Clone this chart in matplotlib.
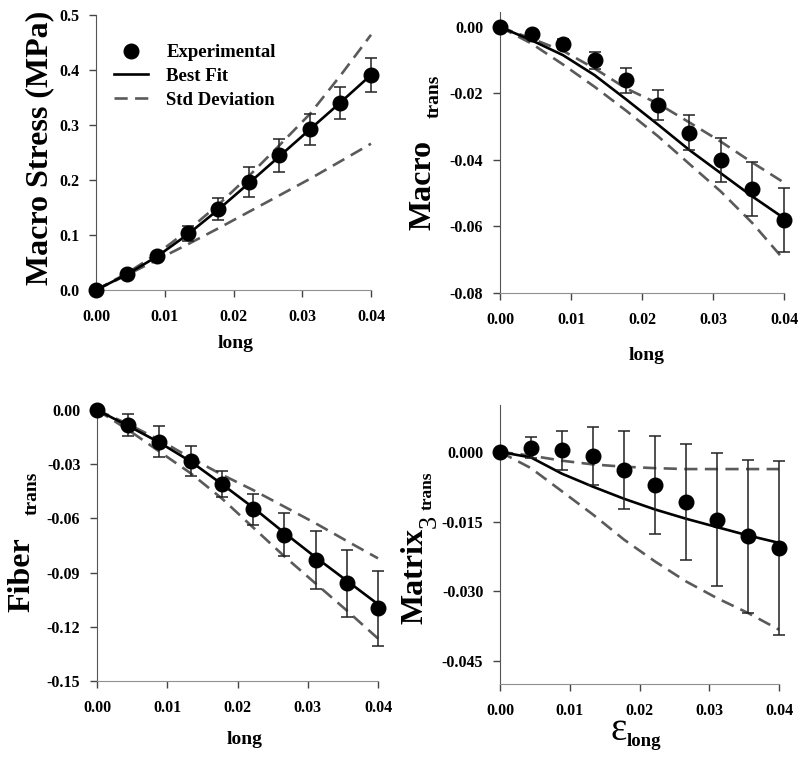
import numpy as np
import matplotlib
matplotlib.use("Agg")
import matplotlib.pyplot as plt
from matplotlib.lines import Line2D

plt.rcParams['font.family'] = ['Liberation Serif', 'DejaVu Serif']
plt.rcParams['font.weight'] = 'bold'
plt.rcParams['axes.unicode_minus'] = False

# strain levels (longitudinal)
strain = [0.0, 0.00444, 0.00889, 0.01333, 0.01778, 0.02222, 0.02667, 0.03111, 0.03556, 0.04]

# Macro stress (MPa)
stress_exp = [0.0, 0.029, 0.062, 0.103, 0.147, 0.197, 0.245, 0.292, 0.340, 0.391]
stress_err = [0.0, 0.003, 0.005, 0.0136, 0.0206, 0.0273, 0.030, 0.028, 0.0285, 0.0315]
stress_fit = [0.0, 0.028, 0.061, 0.101, 0.146, 0.194, 0.243, 0.292, 0.341, 0.391]
stress_hi = [0.0, 0.030, 0.066, 0.108, 0.155, 0.207, 0.263, 0.320, 0.390, 0.464]
stress_lo = [0.0, 0.027, 0.055, 0.083, 0.112, 0.142, 0.172, 0.202, 0.234, 0.266]

# Macro transverse strain
macro_exp = [0.0, -0.0020, -0.0052, -0.0100, -0.0160, -0.0235, -0.0318, -0.0400, -0.0487, -0.0580]
macro_err = [0.0, 0.0008, 0.0015, 0.0025, 0.00375, 0.0044, 0.0053, 0.0067, 0.0081, 0.0096]
macro_fit = [0.0, -0.0040, -0.0085, -0.0145, -0.0218, -0.0293, -0.0370, -0.0440, -0.0510, -0.0575]
macro_hi = [0.0, -0.0035, -0.0072, -0.0125, -0.0185, -0.0230, -0.0287, -0.0345, -0.0408, -0.0468]
macro_lo = [0.0, -0.0050, -0.0113, -0.0180, -0.0252, -0.0328, -0.0412, -0.0495, -0.0590, -0.0700]

# Fiber transverse strain
fiber_exp = [0.0, -0.0083, -0.0175, -0.0284, -0.0411, -0.0550, -0.0690, -0.0830, -0.0960, -0.1098]
fiber_err = [0.0, 0.0063, 0.0085, 0.0083, 0.0073, 0.0085, 0.0118, 0.0159, 0.0186, 0.0209]
fiber_fit = [0.0, -0.0088, -0.0180, -0.0285, -0.0410, -0.0540, -0.0680, -0.0815, -0.0945, -0.1075]
fiber_hi = [0.0, -0.0078, -0.0166, -0.0265, -0.0358, -0.0443, -0.0535, -0.0627, -0.0725, -0.0821]
fiber_lo = [0.0, -0.0110, -0.0230, -0.0350, -0.0490, -0.0650, -0.0810, -0.0960, -0.1110, -0.1265]

# Matrix transverse strain
matrix_exp = [0.0, 0.0009, 0.0004, -0.0009, -0.0038, -0.0071, -0.0107, -0.0146, -0.0182, -0.0207]
matrix_err = [0.0, 0.0023, 0.0042, 0.0063, 0.0084, 0.0105, 0.0125, 0.0143, 0.0165, 0.0187]
matrix_fit = [0.0, -0.0012, -0.0047, -0.0075, -0.0101, -0.0124, -0.0144, -0.0162, -0.0180, -0.0196]
matrix_hi = [0.0, -0.0008, -0.0019, -0.0027, -0.0032, -0.0035, -0.0037, -0.0037, -0.0037, -0.0037]
matrix_lo = [0.0, -0.0035, -0.0085, -0.0135, -0.0189, -0.0236, -0.0279, -0.0315, -0.0347, -0.0383]

W, H = 800, 757
fig = plt.figure(figsize=(8, 7.57), dpi=100)


def box(l, t, r, b):
    return [l / W, 1 - b / H, (r - l) / W, (b - t) / H]


def fpos(x, y):
    return x / W, 1 - y / H


def panel(rect, exp, err, fit, hi, lo, ylim, yticks, yfmt):
    ax = fig.add_axes(rect)
    ax.plot(strain, hi, color='#5a5a5a', lw=1.9, dashes=(5, 2.8), clip_on=False)
    ax.plot(strain, lo, color='#5a5a5a', lw=1.9, dashes=(5, 2.8), clip_on=False)
    ax.plot(strain, fit, color='black', lw=1.9, clip_on=False)
    ax.errorbar(strain, exp, yerr=err, fmt='none', ecolor='#222222', elinewidth=1.1,
                capsize=4.5, capthick=1.1, clip_on=False)
    ax.plot(strain, exp, 'o', color='black', ms=10.5, clip_on=False, zorder=5)
    ax.set_xlim(0, 0.04)
    ax.set_ylim(*ylim)
    ax.set_xticks([0, 0.01, 0.02, 0.03, 0.04])
    ax.set_xticklabels(['0.00', '0.01', '0.02', '0.03', '0.04'])
    ax.set_yticks(yticks)
    ax.set_yticklabels([yfmt % v for v in yticks])
    for s in ['top', 'right']:
        ax.spines[s].set_visible(False)
    ax.spines['left'].set_color('#555555')
    ax.spines['bottom'].set_color('#909090')
    ax.tick_params(direction='out', length=5, width=1, color='#444444', labelsize=11.5)
    ax.tick_params(axis='x', pad=9)
    ax.tick_params(axis='y', pad=7)
    for lab in ax.get_xticklabels() + ax.get_yticklabels():
        lab.set_fontweight('bold')
    return ax


ax1 = panel(box(96, 15, 371, 290), stress_exp, stress_err, stress_fit, stress_hi, stress_lo,
            (0, 0.5), [0, 0.1, 0.2, 0.3, 0.4, 0.5], '%.1f')
ax2 = panel(box(500, 12, 784, 293), macro_exp, macro_err, macro_fit, macro_hi, macro_lo,
            (-0.08, 0.0045), [0, -0.02, -0.04, -0.06, -0.08], '%.2f')
ax3 = panel(box(97, 410, 378, 681), fiber_exp, fiber_err, fiber_fit, fiber_hi, fiber_lo,
            (-0.15, 0.0), [0, -0.03, -0.06, -0.09, -0.12, -0.15], '%.2f')
ax4 = panel(box(500, 405, 779, 684), matrix_exp, matrix_err, matrix_fit, matrix_hi, matrix_lo,
            (-0.05, 0.0101), [0, -0.015, -0.03, -0.045], '%.3f')

# legend in first panel
handles = [Line2D([], [], color='black', marker='o', ls='none', ms=10.5),
           Line2D([], [], color='black', lw=1.9),
           Line2D([], [], color='#5a5a5a', lw=1.9, dashes=(5, 2.8))]
ax1.legend(handles, ['Experimental', 'Best Fit', 'Std Deviation'], loc='upper left',
           bbox_to_anchor=fpos(114, 44), bbox_transform=fig.transFigure, frameon=False,
           borderpad=0, borderaxespad=0, handlelength=1.8, handletextpad=1.0,
           labelspacing=0.36, prop={'family': 'Liberation Serif', 'weight': 'bold', 'size': 13.5})

big = dict(fontsize=23, fontweight='bold', rotation=90, ha='center', va='center')
small = dict(fontsize=14, fontweight='bold', rotation=90, ha='center', va='center')

# y labels
fig.text(*fpos(40, 148), 'Macro Stress (MPa)', **big)
fig.text(*fpos(423, 185), 'Macro', **big)
fig.text(*fpos(434, 96), 'trans', **small)
fig.text(*fpos(22, 575), 'Fiber', **big)
fig.text(*fpos(32.5, 493), 'trans', **small)
fig.text(*fpos(415, 576), 'Matrix', **big)
fig.text(*fpos(430, 521), '3', fontsize=19, fontweight='normal', rotation=90, ha='center', va='center')
fig.text(*fpos(427.5, 491), 'trans', fontsize=12.5, fontweight='bold', rotation=90, ha='center', va='center')

# x labels
fig.text(*fpos(235.5, 344), 'long', fontsize=14, fontweight='bold', ha='center', va='center')
fig.text(*fpos(646.5, 355), 'long', fontsize=14, fontweight='bold', ha='center', va='center')
fig.text(*fpos(244.5, 739), 'long', fontsize=14, fontweight='bold', ha='center', va='center')
fig.text(*fpos(618.5, 731), 'ε', fontsize=28, fontweight='normal', ha='center', va='center')
fig.text(*fpos(643.5, 742), 'long', fontsize=13.5, fontweight='bold', ha='center', va='center')

fig.savefig('out.png', dpi=100)
